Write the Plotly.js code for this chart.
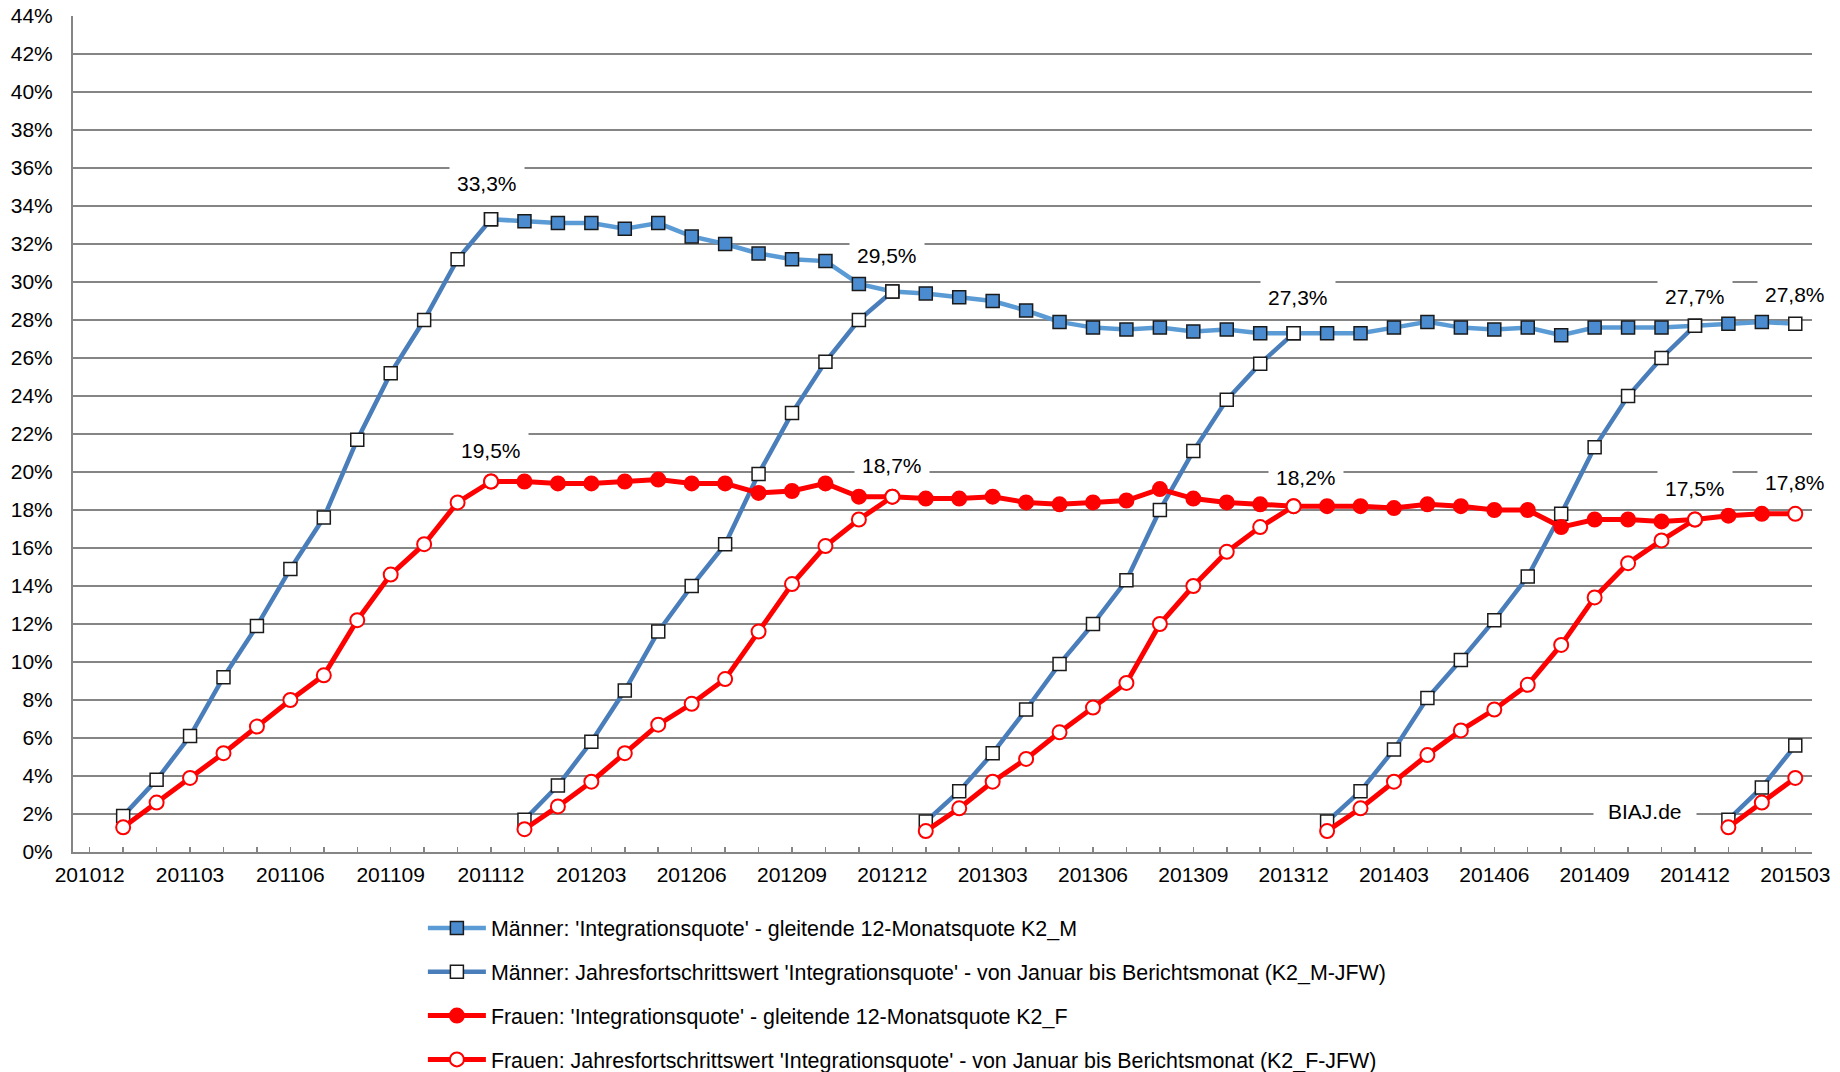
<!DOCTYPE html>
<html>
<head>
<meta charset="utf-8">
<script src="https://cdn.plot.ly/plotly-3.0.1.min.js"></script>
<style>
  html, body { margin: 0; padding: 0; background: #ffffff; }
  #chart { width: 1840px; height: 1072px; }
</style>
</head>
<body>
<div id="chart"></div>
<script>
// ---------- DATA ----------
const months = [
  '201012','201101','201102','201103','201104','201105','201106','201107','201108','201109','201110','201111','201112',
  '201201','201202','201203','201204','201205','201206','201207','201208','201209','201210','201211','201212',
  '201301','201302','201303','201304','201305','201306','201307','201308','201309','201310','201311','201312',
  '201401','201402','201403','201404','201405','201406','201407','201408','201409','201410','201411','201412',
  '201501','201502','201503'
];
// x tick labels (every third month)
const tickLabelMonths = ['201012','201103','201106','201109','201112','201203','201206','201209','201212',
  '201303','201306','201309','201312','201403','201406','201409','201412','201503'];

// rolling 12-month quotas, from 201112 to 201503 (percent)
const rollingStart = '201112';
const menRolling = [33.3,
  33.2,33.1,33.1,32.8,33.1,32.4,32.0,31.5,31.2,31.1,29.9,29.5,
  29.4,29.2,29.0,28.5,27.9,27.6,27.5,27.6,27.4,27.5,27.3,27.3,
  27.3,27.3,27.6,27.9,27.6,27.5,27.6,27.2,27.6,27.6,27.6,27.7,
  27.8,27.9,27.8];
const womenRolling = [19.5,
  19.5,19.4,19.4,19.5,19.6,19.4,19.4,18.9,19.0,19.4,18.7,18.7,
  18.6,18.6,18.7,18.4,18.3,18.4,18.5,19.1,18.6,18.4,18.3,18.2,
  18.2,18.2,18.1,18.3,18.2,18.0,18.0,17.1,17.5,17.5,17.4,17.5,
  17.7,17.8,17.8];

// year-to-date values (January .. reporting month), percent
const menJfw2011 = [1.9,3.8,6.1,9.2,11.9,14.9,17.6,21.7,25.2,28.0,31.2,33.3];
const menJfw2012 = [1.7,3.5,5.8,8.5,11.6,14.0,16.2,19.9,23.1,25.8,28.0,29.5];
const menJfw2013 = [1.6,3.2,5.2,7.5,9.9,12.0,14.3,18.0,21.1,23.8,25.7,27.3];
const menJfw2014 = [1.6,3.2,5.4,8.1,10.1,12.2,14.5,17.8,21.3,24.0,26.0,27.7];
const menJfw2015 = [1.7,3.4,5.6];

const womenJfw2011 = [1.3,2.6,3.9,5.2,6.6,8.0,9.3,12.2,14.6,16.2,18.4,19.5];
const womenJfw2012 = [1.2,2.4,3.7,5.2,6.7,7.8,9.1,11.6,14.1,16.1,17.5,18.7];
const womenJfw2013 = [1.1,2.3,3.7,4.9,6.3,7.6,8.9,12.0,14.0,15.8,17.1,18.2];
const womenJfw2014 = [1.1,2.3,3.7,5.1,6.4,7.5,8.8,10.9,13.4,15.2,16.4,17.5];
const womenJfw2015 = [1.3,2.6,3.9];

const years = ['2011','2012','2013','2014','2015'];
const menJfw = [menJfw2011, menJfw2012, menJfw2013, menJfw2014, menJfw2015];
const womenJfw = [womenJfw2011, womenJfw2012, womenJfw2013, womenJfw2014, womenJfw2015];

// months carrying a value label
const menLabelMonths = ['201112','201212','201312','201412','201503'];
const womenLabelMonths = ['201112','201212','201312','201412','201503'];

const legendNames = [
  "Männer: 'Integrationsquote' - gleitende 12-Monatsquote K2_M",
  "Männer: Jahresfortschrittswert 'Integrationsquote' - von Januar bis Berichtsmonat (K2_M-JFW)",
  "Frauen: 'Integrationsquote' - gleitende 12-Monatsquote K2_F",
  "Frauen: Jahresfortschrittswert 'Integrationsquote' - von Januar bis Berichtsmonat (K2_F-JFW)"
];
const sourceText = 'BIAJ.de';

// ---------- STYLE ----------
const FONT = 'Liberation Sans, Arial, Helvetica, sans-serif';
const FS = 21;
const GRID = '#858585';
const C_MEN_ROLL = '#5b9bd5';
const C_MEN_ROLL_MK = '#4a8ccf';
const C_MEN_JFW = '#4a7ebb';
const C_RED = '#ff0000';

// label offsets (px) relative to the marked point
const menLabelShift = {'201112':[-4,36],'201212':[-5,36],'201312':[4,36],'201412':[0,29],'201503':[0,29]};
const womenLabelShift = {'201112':[0,31],'201212':[0,31],'201312':[12,29],'201412':[0,31],'201503':[0,31]};

// ---------- BUILD ----------
const rollX = months.slice(months.indexOf(rollingStart));
const yearMonths = y => months.filter(m => m.startsWith(y));
const lastWhite = (arr, c) => arr.map((v, i) => i === arr.length - 1 ? '#ffffff' : c);

const traces = [];
traces.push({
  type: 'scatter', mode: 'lines+markers', name: legendNames[0], legendgroup: 'g1',
  x: rollX, y: menRolling,
  line: {color: C_MEN_ROLL, width: 4.5},
  marker: {symbol: 'square', size: 13, color: lastWhite(menRolling, C_MEN_ROLL_MK), line: {color: '#1a1a1a', width: 1.5}},
  hoverinfo: 'x+y'
});
years.forEach((yr, i) => {
  traces.push({
    type: 'scatter', mode: 'lines+markers', name: legendNames[1], legendgroup: 'g2', showlegend: i === 0,
    x: yearMonths(yr).slice(0, menJfw[i].length), y: menJfw[i],
    line: {color: C_MEN_JFW, width: 4.5},
    marker: {symbol: 'square', size: 13, color: '#ffffff', line: {color: '#1a1a1a', width: 1.5}},
    hoverinfo: 'x+y'
  });
});
traces.push({
  type: 'scatter', mode: 'lines+markers', name: legendNames[2], legendgroup: 'g3',
  x: rollX, y: womenRolling,
  line: {color: C_RED, width: 5},
  marker: {symbol: 'circle', size: 14, color: lastWhite(womenRolling, C_RED), line: {color: C_RED, width: 2}},
  hoverinfo: 'x+y'
});
years.forEach((yr, i) => {
  traces.push({
    type: 'scatter', mode: 'lines+markers', name: legendNames[3], legendgroup: 'g4', showlegend: i === 0,
    x: yearMonths(yr).slice(0, womenJfw[i].length), y: womenJfw[i],
    line: {color: C_RED, width: 5},
    marker: {symbol: 'circle', size: 14, color: '#ffffff', line: {color: C_RED, width: 2}},
    hoverinfo: 'x+y'
  });
});

const fmt = v => v.toFixed(1).replace('.', ',') + '%';
const annotations = [];
function addLabels(labelMonths, series, shifts) {
  labelMonths.forEach(m => {
    const v = series[rollX.indexOf(m)];
    annotations.push({
      x: months.indexOf(m), y: v, xref: 'x', yref: 'y', text: fmt(v), showarrow: false,
      xanchor: 'center', yanchor: 'middle',
      xshift: shifts[m][0], yshift: shifts[m][1],
      font: {family: FONT, size: FS, color: '#000000'},
      bgcolor: '#ffffff', borderpad: 7
    });
  });
}
addLabels(menLabelMonths, menRolling, menLabelShift);
addLabels(womenLabelMonths, womenRolling, womenLabelShift);
annotations.push({
  x: 0.904, y: 0.048, xref: 'paper', yref: 'paper', text: sourceText, showarrow: false,
  xanchor: 'center', yanchor: 'middle',
  font: {family: FONT, size: FS, color: '#000000'}, bgcolor: '#ffffff', borderpad: 14
});

const layout = {
  width: 1840, height: 1072,
  margin: {l: 73, r: 28, t: 16, b: 220, pad: 0, autoexpand: false},
  paper_bgcolor: '#ffffff', plot_bgcolor: '#ffffff',
  font: {family: FONT, size: FS, color: '#000000'},
  showlegend: true,
  legend: {
    x: 0.2012, y: -0.0664, xanchor: 'left', yanchor: 'top', orientation: 'v',
    font: {family: FONT, size: 21.4, color: '#000000'},
    itemwidth: 58, tracegroupgap: 13, traceorder: 'grouped',
    bgcolor: 'rgba(0,0,0,0)', borderwidth: 0
  },
  xaxis: {
    type: 'category', categoryorder: 'array', categoryarray: months,
    range: [-0.5, months.length - 0.5], fixedrange: true,
    tickmode: 'array', tickvals: months,
    ticktext: months.map(m => tickLabelMonths.includes(m) ? m : ''),
    ticks: 'inside', ticklen: 5, tickwidth: 1.5, tickcolor: GRID,
    showline: true, linecolor: GRID, linewidth: 2,
    showgrid: false, zeroline: false,
    tickfont: {family: FONT, size: FS, color: '#000000'},
    ticklabelstandoff: 3
  },
  yaxis: {
    range: [0, 44], tick0: 0, dtick: 2, ticksuffix: '%', fixedrange: true,
    showgrid: true, gridcolor: GRID, gridwidth: 2,
    showline: true, linecolor: GRID, linewidth: 2,
    zeroline: false, ticks: '',
    tickfont: {family: FONT, size: FS, color: '#000000'},
    ticklabelstandoff: 14
  },
  annotations: annotations
};

Plotly.newPlot('chart', traces, layout, {displayModeBar: false, staticPlot: true});
</script>
</body>
</html>
